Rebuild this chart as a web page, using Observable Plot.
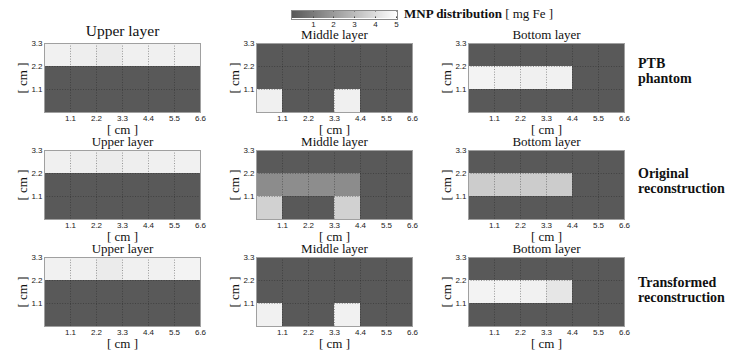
<!DOCTYPE html>
<html><head><meta charset="utf-8">
<script src="https://cdn.jsdelivr.net/npm/d3@7"></script>
<script src="https://cdn.jsdelivr.net/npm/@observablehq/plot@0.6"></script>
<style>
body{margin:0;background:#fff;}
#root{position:relative;width:732px;height:356px;overflow:hidden;background:#fff;}
.abs{position:absolute;}
.rlab{font-family:"Liberation Serif","Times New Roman",Times,"DejaVu Serif",serif;font-weight:bold;font-size:14px;line-height:15px;color:#111;white-space:nowrap;}
.cbtitle{font-family:"Liberation Serif","Times New Roman",Times,"DejaVu Serif",serif;font-size:13px;line-height:16px;color:#111;white-space:nowrap;}
.lg svg{overflow:visible;background:none !important;}
.lg .tick line{stroke-dasharray:1.5,5,1.5;stroke:#444;}
</style></head>
<body><div id="root"></div>
<script>
// ---- data ----
const layers = ["Upper layer", "Middle layer", "Bottom layer"];
const rowLabels = [["PTB", "phantom"], ["Original", "reconstruction"], ["Transformed", "reconstruction"]];
const xEdges = [0, 1.1, 2.2, 3.3, 4.4, 5.5, 6.6];
const yEdges = [0, 1.1, 2.2, 3.3];
const xTicks = [1.1, 2.2, 3.3, 4.4, 5.5, 6.6];
const yTicks = [1.1, 2.2, 3.3];
const colorTicks = [1, 2, 3, 4, 5];
const colorDomain = [0, 5.07];
const axisLabel = "[ cm ]";
const colorTitle = "MNP distribution";
const colorUnit = "[ mg Fe ]";

// rows of each layer from top (2.2–3.3 cm) to bottom (0–1.1 cm), mg Fe
const ptbUpper  = [[4.65, 4.55, 4.45, 4.6, 4.6, 4.65], [0, 0, 0, 0, 0, 0], [0, 0, 0, 0, 0, 0]];
const ptbMiddle = [[0, 0, 0, 0, 0, 0], [0, 0, 0, 0, 0, 0], [4.6, 0, 0, 4.6, 0, 0]];
const ptbBottom = [[0, 0, 0, 0, 0, 0], [4.7, 4.65, 4.6, 4.65, 0, 0], [0, 0, 0, 0, 0, 0]];
const origUpper  = [[4.6, 4.55, 4.5, 4.55, 4.6, 4.65], [0, 0, 0, 0, 0, 0], [0, 0, 0, 0, 0, 0]];
const origMiddle = [[0.03, 0.03, 0.03, 0.03, 0, 0], [1.55, 1.6, 1.6, 1.55, 0, 0], [3.65, 0, 0, 3.65, 0, 0]];
const origBottom = [[0, 0, 0, 0, 0, 0], [3.5, 3.5, 3.5, 3.5, 0, 0], [0, 0, 0, 0, 0, 0]];
const transUpper  = [[4.65, 4.6, 4.45, 4.6, 4.65, 4.7], [0, 0, 0, 0, 0, 0], [0, 0, 0, 0, 0, 0]];
const transMiddle = [[0, 0, 0, 0, 0, 0], [0, 0, 0, 0, 0, 0], [4.65, 0, 0, 4.65, 0, 0]];
const transBottom = [[0, 0, 0, 0, 0, 0], [4.7, 4.7, 4.65, 4.3, 0, 0], [0, 0, 0, 0, 0, 0]];
const grid = [[ptbUpper, ptbMiddle, ptbBottom], [origUpper, origMiddle, origBottom], [transUpper, transMiddle, transBottom]];

// ---- layout ----
const colLeft = [44, 256, 468];
const rowTop = [43, 150, 257];
const PW = 156, PH = 69, ML = 44, MR = 12, MT = 30, MB = 30;
const dark = "#595959";
const serif = "'Liberation Serif', 'Times New Roman', Times, 'DejaVu Serif', serif";
const sans = "'Liberation Sans', Arial, Helvetica, sans-serif";

const root = document.getElementById("root");

function panel(matrix, title, big) {
  const nRows = matrix.length;
  const cells = [];
  matrix.forEach((row, r) => row.forEach((v, c) => cells.push({
    x1: xEdges[c], x2: xEdges[c + 1], y1: yEdges[nRows - 1 - r], y2: yEdges[nRows - r], v
  })));
  return Plot.plot({
    width: ML + PW + MR, height: MT + PH + MB,
    marginLeft: ML, marginRight: MR, marginTop: MT, marginBottom: MB,
    style: {background: "none", overflow: "visible", fontFamily: sans, fontSize: "8px", color: "#222"},
    x: {domain: [xEdges[0], xEdges[xEdges.length - 1]]},
    y: {domain: [yEdges[0], yEdges[yEdges.length - 1]]},
    color: {type: "linear", domain: colorDomain, range: [dark, "#ffffff"]},
    marks: [
      Plot.rect(cells, {x1: "x1", x2: "x2", y1: "y1", y2: "y2", fill: "v"}),
      Plot.ruleX(xTicks.slice(0, -1), {stroke: "#222", strokeOpacity: 0.55, strokeDasharray: "1,1.6", strokeWidth: 0.8}),
      Plot.ruleY(yTicks.slice(0, -1), {stroke: "#222", strokeOpacity: 0.55, strokeDasharray: "1,1.6", strokeWidth: 0.8}),
      Plot.frame({stroke: "#a0a0a0"}),
      Plot.axisX({ticks: xTicks, tickSize: 0, tickPadding: 3, tickFormat: d => d.toFixed(1), label: null, fontFamily: sans, fontSize: 8}),
      Plot.axisY({ticks: yTicks, tickSize: 0, tickPadding: 2, tickFormat: d => d.toFixed(1), label: null, fontFamily: sans, fontSize: 8}),
      Plot.text([axisLabel], {frameAnchor: "bottom", lineAnchor: "middle", textAnchor: "middle", dy: 17.5, fontFamily: serif, fontSize: 13, fill: "#111"}),
      Plot.text([axisLabel], {frameAnchor: "left", lineAnchor: "middle", textAnchor: "middle", rotate: -90, dx: -22, fontFamily: serif, fontSize: 13, fill: "#111"}),
      Plot.text([title], {frameAnchor: "top", lineAnchor: "middle", textAnchor: "middle", dy: big ? -12.5 : -9, fontFamily: serif, fontSize: big ? 15.5 : 13, fill: "#111"})
    ]
  });
}

grid.forEach((row, ri) => row.forEach((m, ci) => {
  const d = document.createElement("div");
  d.className = "abs";
  d.style.left = (colLeft[ci] - ML) + "px";
  d.style.top = (rowTop[ri] - MT) + "px";
  d.appendChild(panel(m, layers[ci], ri === 0 && ci === 0));
  root.appendChild(d);
}));

// row labels
const rlTops = [55.5, 165.5, 274.5];
rowLabels.forEach((lines, i) => {
  const d = document.createElement("div");
  d.className = "abs rlab";
  d.style.left = "638px";
  d.style.top = rlTops[i] + "px";
  d.innerHTML = lines.map(t => `<div>${t}</div>`).join("");
  root.appendChild(d);
});

// colour bar
const lg = document.createElement("div");
lg.className = "abs lg";
lg.style.left = "291.5px";
lg.style.top = "10px";
lg.appendChild(Plot.legend({
  color: {type: "linear", domain: colorDomain, range: [dark, "#ffffff"]},
  width: 110, height: 24, marginLeft: 0, marginRight: 5, marginTop: 0, marginBottom: 16,
  tickSize: 0, ticks: colorTicks, tickFormat: d => String(d), label: null,
  style: {fontFamily: sans, fontSize: "8px", color: "#222", background: "none", overflow: "visible"}
}));
root.appendChild(lg);
const border = document.createElement("div");
border.className = "abs";
Object.assign(border.style, {left: "291px", top: "9.5px", width: "105px", height: "8px", border: "1px solid #8a8a8a", pointerEvents: "none"});
root.appendChild(border);

const ct = document.createElement("div");
ct.className = "abs cbtitle";
ct.style.left = "404px";
ct.style.top = "6px";
ct.innerHTML = `<b>${colorTitle}</b> ${colorUnit}`;
root.appendChild(ct);
</script>
</body></html>
